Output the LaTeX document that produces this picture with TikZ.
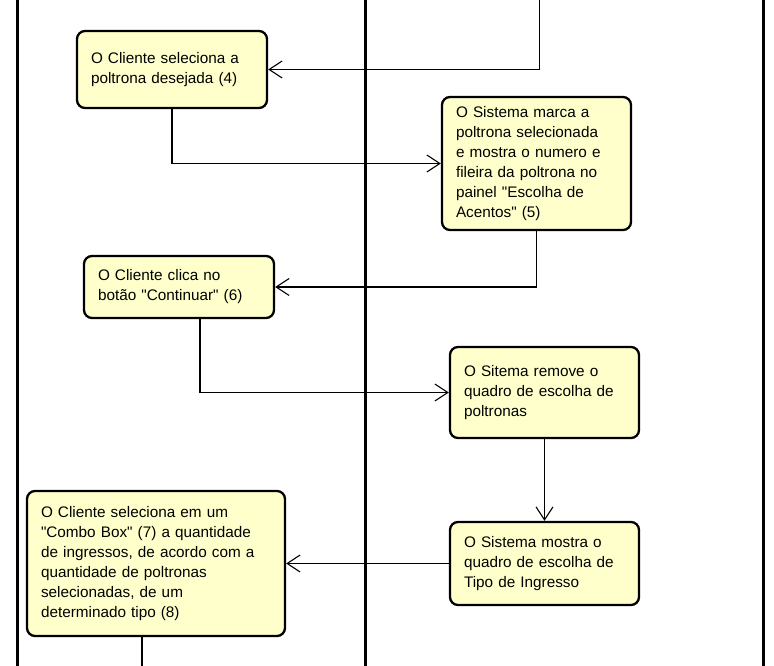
\documentclass[tikz,border=0pt]{standalone}
\usepackage{fontspec}
\setmainfont{Liberation Sans}[Ligatures=TeXOff]
\usetikzlibrary{arrows.meta}
\definecolor{actfill}{RGB}{255,255,204}
\tikzset{
  lane/.style={line width=2.6pt, black},
  action/.style={draw=black, line width=2.3pt, fill=actfill, rounded corners=8pt,
    align=left, inner xsep=14pt, inner ysep=0pt,
    font=\fontsize{15.3}{20}\selectfont},
  flow/.style={line width=1.1pt, black,
    -{Straight Barb[length=13pt, width=17pt, line width=1.1pt]}},
  flowend/.style={line width=1.1pt, black},
}
\begin{document}
\begin{tikzpicture}[x=1pt, y=-1pt]
\useasboundingbox (0,0) rectangle (774,666);

% swimlane separators
\draw[lane] (17.5,0) -- (17.5,666);
\draw[lane] (365.5,0) -- (365.5,666);
\draw[lane] (763.5,0) -- (763.5,666);

% actions
\node[action, text width=162pt, minimum height=77pt] (b1) at (172,69.5)
  {O Cliente seleciona a\\poltrona desejada (4)};
\node[action, text width=161pt, minimum height=133pt] (b2) at (536.5,163.5)
  {O Sistema marca a\\poltrona selecionada\\e mostra o numero e\\fileira da poltrona no\\painel "Escolha de\\Acentos" (5)};
\node[action, text width=162pt, minimum height=62pt] (b3) at (179,287)
  {O Cliente clica no\\botão "Continuar" (6)};
\node[action, text width=161pt, minimum height=91pt] (b4) at (544.5,392.5)
  {O Sitema remove o\\quadro de escolha de\\poltronas};
\node[action, text width=161pt, minimum height=83pt] (b5) at (544.5,563.5)
  {O Sistema mostra o\\quadro de escolha de\\Tipo de Ingresso};
\node[action, text width=230pt, minimum height=145pt] (b6) at (156,563.5)
  {O Cliente seleciona em um\\"Combo Box" (7) a quantidade\\de ingressos, de acordo com a\\quantidade de poltronas\\selecionadas, de um\\determinado tipo (8)};

% free ends of the flow
\coordinate (in1) at (539.5,0);
\coordinate (out3) at (200,318);
\coordinate (out6) at (142,636);
\coordinate (end6) at (142,666);

% control flow
\draw[flow] (in1) |- (b1.east);
\draw[flow] (b1.south) |- (b2.west);
\draw[flow] (b2.south) |- (b3.east);
\draw[flow] (out3) |- (b4.west);
\draw[flow] (b4.south) -- (b5.north);
\draw[flow] (b5.west) -- (b6.east);
\draw[flowend] (out6) -- (end6);
\end{tikzpicture}
\end{document}
